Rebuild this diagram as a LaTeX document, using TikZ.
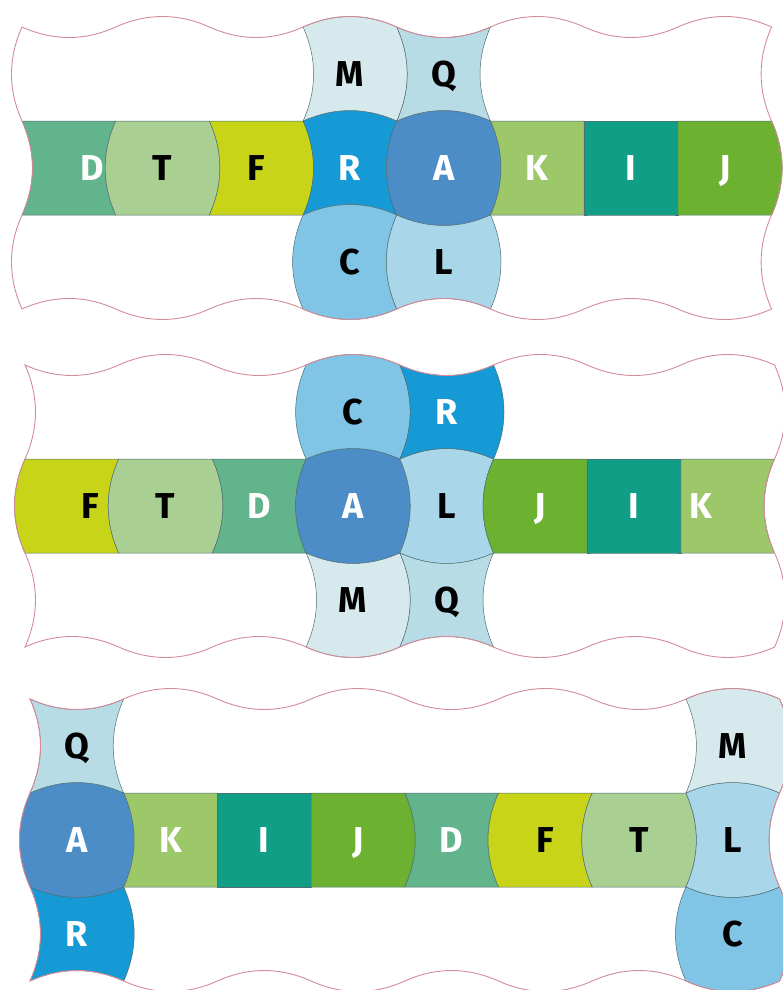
\documentclass[tikz,border=0pt]{standalone}
\usepackage{fontspec}
\usepackage{xcolor}
\usepackage{tikz}

\newfontfamily\tilefont{Fira Sans}

\definecolor{tileD}{RGB}{97,180,140}
\definecolor{tileT}{RGB}{170,207,146}
\definecolor{tileF}{RGB}{200,212,24}
\definecolor{tileR}{RGB}{22,154,214}
\definecolor{tileA}{RGB}{76,141,200}
\definecolor{tileK}{RGB}{157,200,106}
\definecolor{tileI}{RGB}{16,158,134}
\definecolor{tileJ}{RGB}{108,178,48}
\definecolor{tileM}{RGB}{214,234,238}
\definecolor{tileQ}{RGB}{184,220,230}
\definecolor{tileC}{RGB}{128,196,230}
\definecolor{tileL}{RGB}{170,214,234}
\definecolor{rimline}{RGB}{214,140,152}
\definecolor{seamline}{RGB}{80,110,115}

\newcommand{\cellw}{93.7}
\newcommand{\cellh}{94}
\newcommand{\bulge}{14}

% --- Pièce : coin haut-gauche (#1,#2), bords haut/droite/bas/gauche (+1 bombé, -1 creux, 0 droit), couleur #7 ---
\newcommand{\drawtile}[7]{%
  \filldraw[tile, fill=#7] ({#1},{#2})
    .. controls ({#1+\cellw/3},{#2-(#3)*\bulge}) and ({#1+2*\cellw/3},{#2-(#3)*\bulge}) .. ({#1+\cellw},{#2})
    .. controls ({#1+\cellw+(#4)*\bulge},{#2+\cellh/3}) and ({#1+\cellw+(#4)*\bulge},{#2+2*\cellh/3}) .. ({#1+\cellw},{#2+\cellh})
    .. controls ({#1+2*\cellw/3},{#2+\cellh+(#5)*\bulge}) and ({#1+\cellw/3},{#2+\cellh+(#5)*\bulge}) .. ({#1},{#2+\cellh})
    .. controls ({#1-(#6)*\bulge},{#2+2*\cellh/3}) and ({#1-(#6)*\bulge},{#2+\cellh/3}) .. cycle;}

% --- Contour ondulé : côté gauche (#1..#3), côté droit (#4..#6) ---
\newcommand{\drawrim}[6]{%
  \draw[rim] (0,0)
    \foreach \c/\sg in {0/-1,1/1,2/-1,3/1,4/-1,5/1,6/-1,7/1} {
      .. controls ({(\c+1/3)*\cellw},{-(\sg)*\bulge}) and ({(\c+2/3)*\cellw},{-(\sg)*\bulge}) .. ({(\c+1)*\cellw},{0})}
    \foreach \r/\sg in {0/#4,1/#5,2/#6} {
      .. controls ({8*\cellw+(\sg)*\bulge},{(\r+1/3)*\cellh}) and ({8*\cellw+(\sg)*\bulge},{(\r+2/3)*\cellh}) .. ({8*\cellw},{(\r+1)*\cellh})}
    \foreach \c/\sg in {7/1,6/-1,5/1,4/-1,3/1,2/-1,1/1,0/-1} {
      .. controls ({(\c+2/3)*\cellw},{3*\cellh+(\sg)*\bulge}) and ({(\c+1/3)*\cellw},{3*\cellh+(\sg)*\bulge}) .. ({\c*\cellw},{3*\cellh})}
    \foreach \r/\sg in {2/#3,1/#2,0/#1} {
      .. controls ({-(\sg)*\bulge},{(\r+2/3)*\cellh}) and ({-(\sg)*\bulge},{(\r+1/3)*\cellh}) .. ({0},{\r*\cellh})}
    -- cycle;}

\begin{document}
\begin{tikzpicture}[
    x=1pt, y=-1pt,
    tile/.style={draw=seamline, line width=0.5pt},
    rim/.style={draw=rimline, line width=0.9pt},
    glyph/.style={font=\tilefont\bfseries\fontsize{36}{36}\selectfont, inner sep=0pt, text depth=0pt},
]
\useasboundingbox (0,0) rectangle (783,990);
\fill[white] (0,0) rectangle (783,990);

% --- Panneau 1 ---
\begin{scope}[shift={(22,27)}]
\foreach \c/\r/\et/\er/\eb/\el/\txt/\tc/\dx in {
    0/1/0/-1/0/-1/D/white/23, 1/1/0/1/0/1/T/black/0, 2/1/0/1/0/-1/F/black/0,
    3/1/1/-1/-1/-1/R/white/0, 4/1/1/1/1/1/A/white/0, 5/1/0/0/0/-1/K/white/0,
    6/1/0/0/0/0/I/white/0, 7/1/0/1/0/0/J/white/0,
    3/0/1/1/-1/-1/M/black/0, 4/0/-1/-1/-1/-1/Q/black/0,
    3/2/1/-1/1/1/C/black/0, 4/2/-1/1/-1/1/L/black/0} {
  \drawtile{\c*\cellw}{\r*\cellh}{\et}{\er}{\eb}{\el}{tile\txt}
  \node[glyph, text=\tc] (p1\txt) at ({(\c+0.5)*\cellw+\dx},{(\r+0.5)*\cellh}) {\txt};
}
\drawrim{1}{-1}{1}{-1}{1}{-1}
\end{scope}

% --- Panneau 2 ---
\begin{scope}[shift={(25,365)}]
\foreach \c/\r/\et/\er/\eb/\el/\txt/\tc/\dx in {
    0/1/0/-1/0/1/F/black/18, 1/1/0/1/0/1/T/black/0, 2/1/0/-1/0/-1/D/white/0,
    3/1/1/1/1/1/A/white/0, 4/1/1/-1/1/-1/L/black/0, 5/1/0/0/0/1/J/white/0,
    6/1/0/0/0/0/I/white/0, 7/1/0/-1/0/0/K/white/-27,
    3/0/1/1/-1/1/C/black/0, 4/0/-1/1/-1/-1/R/white/0,
    3/2/-1/1/1/-1/M/black/0, 4/2/-1/-1/-1/-1/Q/black/0} {
  \drawtile{\c*\cellw}{\r*\cellh}{\et}{\er}{\eb}{\el}{tile\txt}
  \node[glyph, text=\tc] (p2\txt) at ({(\c+0.5)*\cellw+\dx},{(\r+0.5)*\cellh}) {\txt};
}
\drawrim{-1}{1}{-1}{1}{-1}{1}
\end{scope}

% --- Panneau 3 ---
\begin{scope}[shift={(30,699)}]
\foreach \c/\r/\et/\er/\eb/\el/\txt/\tc/\dx in {
    0/1/1/1/1/1/A/white/0, 1/1/0/0/0/-1/K/white/0, 2/1/0/0/0/0/I/white/0,
    3/1/0/1/0/0/J/white/0, 4/1/0/-1/0/-1/D/white/0, 5/1/0/-1/0/1/F/black/0,
    6/1/0/1/0/1/T/black/0, 7/1/1/-1/1/-1/L/black/0,
    0/0/-1/-1/-1/-1/Q/black/0, 0/2/-1/1/-1/-1/R/white/0,
    7/0/1/1/-1/-1/M/black/0, 7/2/-1/1/1/1/C/black/0} {
  \drawtile{\c*\cellw}{\r*\cellh}{\et}{\er}{\eb}{\el}{tile\txt}
  \node[glyph, text=\tc] (p3\txt) at ({(\c+0.5)*\cellw+\dx},{(\r+0.5)*\cellh}) {\txt};
}
\drawrim{-1}{1}{-1}{1}{-1}{1}
\end{scope}

\end{tikzpicture}
\end{document}
